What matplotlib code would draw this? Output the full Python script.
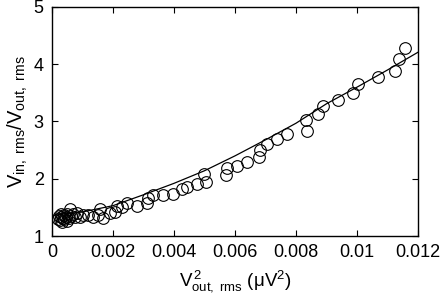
import matplotlib
matplotlib.use("Agg")
import matplotlib.pyplot as plt

plt.rcParams['font.family'] = ['Liberation Sans', 'DejaVu Sans']
plt.rcParams['mathtext.fontset'] = 'custom'
plt.rcParams['mathtext.rm'] = 'Liberation Sans'
plt.rcParams['mathtext.it'] = 'Liberation Sans'
plt.rcParams['mathtext.bf'] = 'Liberation Sans:bold'

# measured points
x_data = [0.00020, 0.00022, 0.00025, 0.00028, 0.00030, 0.00032, 0.00035, 0.00038,
          0.00040, 0.00045, 0.00048, 0.00050, 0.00055, 0.00059, 0.00062, 0.00070,
          0.00075, 0.00082, 0.00092, 0.00102, 0.00118, 0.00134, 0.00151, 0.00157,
          0.00167, 0.00190, 0.00207, 0.00213, 0.00230, 0.00246, 0.00279, 0.00311,
          0.00315, 0.00331, 0.00364, 0.00397, 0.00426, 0.00443, 0.00475, 0.00498,
          0.00505, 0.00570, 0.00574, 0.00607, 0.00640, 0.00679, 0.00682, 0.00705,
          0.00737, 0.00770, 0.00833, 0.00836, 0.00872, 0.00889, 0.00938, 0.00987,
          0.01003, 0.01069, 0.01125, 0.01138, 0.01157]
y_data = [1.30, 1.35, 1.28, 1.33, 1.38, 1.25, 1.31, 1.36,
          1.29, 1.33, 1.27, 1.38, 1.32, 1.48, 1.35, 1.38,
          1.34, 1.40, 1.33, 1.37, 1.37, 1.33, 1.36, 1.48,
          1.31, 1.40, 1.42, 1.52, 1.51, 1.57, 1.53, 1.58,
          1.66, 1.71, 1.71, 1.74, 1.82, 1.86, 1.90, 2.08,
          1.94, 2.06, 2.18, 2.23, 2.29, 2.38, 2.50, 2.60,
          2.70, 2.79, 3.02, 2.84, 3.13, 3.27, 3.38, 3.49,
          3.66, 3.77, 3.89, 4.09, 4.29]

# fitted curve
fit_x = [0, 0.001, 0.002, 0.003, 0.004, 0.005, 0.006, 0.007, 0.008, 0.009, 0.010, 0.011, 0.012]
fit_y = [1.36, 1.42, 1.53, 1.72, 1.92, 2.14, 2.40, 2.68, 2.97, 3.31, 3.60, 3.90, 4.21]

xticks = [0, 0.002, 0.004, 0.006, 0.008, 0.01, 0.012]
xticklabels = ['0', '0.002', '0.004', '0.006', '0.008', '0.01', '0.012']
yticks = [1, 2, 3, 4, 5]

fig = plt.figure(figsize=(4.43, 2.99), dpi=100)
ax = fig.add_axes([0.1174, 0.2107, 0.8262, 0.7659])

ax.plot(fit_x, fit_y, color='black', lw=0.9, zorder=2)
ax.plot(x_data, y_data, linestyle='none', marker='o', markersize=8.4,
        markerfacecolor='none', markeredgecolor='black', markeredgewidth=0.8, zorder=3)

ax.set_xlim(0, 0.012)
ax.set_ylim(1, 5)
ax.set_xticks(xticks)
ax.set_xticklabels(xticklabels)
ax.set_yticks(yticks)
ax.tick_params(direction='in', top=True, right=True, length=4, width=0.8,
               labelsize=13, pad=6)
for s in ax.spines.values():
    s.set_linewidth(1.0)

ax.set_xlabel(r'$\mathrm{V}^{\,2}_{\mathrm{out,\ rms}}$ ($\mathrm{\mu V}^{2}$)', fontsize=13.5, labelpad=5)
ax.set_ylabel(r'$\mathrm{V}_{\mathrm{in,\ rms}}/\mathrm{V}_{\mathrm{out,\ rms}}$', fontsize=14.5, labelpad=3)

fig.savefig('out.png', dpi=100)
